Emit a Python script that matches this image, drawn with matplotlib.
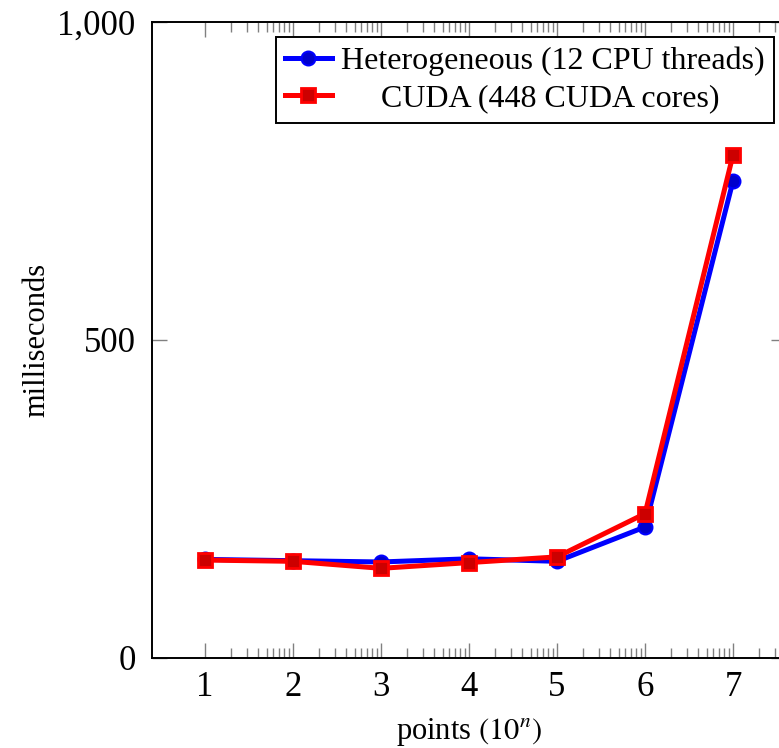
import numpy as np
import matplotlib
matplotlib.use("Agg")
import matplotlib.pyplot as plt
from matplotlib.ticker import FixedLocator, FuncFormatter

# exponent n of the number of points (10^n)
puntos = [1, 2, 3, 4, 5, 6, 7]
# tiempos en milisegundos
heterogeneo = [155, 153, 151, 156, 152, 206, 750]
cuda = [154, 152, 141, 150, 159, 227, 791]

etiqueta_het = "Heterogeneous (12 CPU threads)"
etiqueta_cuda = "CUDA (448 CUDA cores)"

plt.rcParams['font.family'] = ['Liberation Serif', 'DejaVu Serif']
plt.rcParams['mathtext.fontset'] = 'stix'

fig = plt.figure(figsize=(7.79, 7.48), dpi=100)
ax = fig.add_axes([152.2 / 779, 1 - 658 / 748, (785.8 - 152.2) / 779, (658 - 22) / 748])

ax.plot(puntos, heterogeneo, color='#0000ff', lw=3.6, marker='o', ms=10,
        mfc='#0000cc', mec='#0000ff', mew=1.5, label=etiqueta_het, zorder=3)
ax.plot(puntos, cuda, color='#ff0000', lw=3.6, marker='s', ms=10,
        mfc='#cc0000', mec='#ff0000', mew=2, label=' ' * 5 + etiqueta_cuda, zorder=4)

ax.set_xlim(0.4, 7.6)
ax.set_ylim(0, 1000)

# ticks estilo pgfplots: hacia dentro y en ambos lados
ax.xaxis.set_major_locator(FixedLocator(puntos))
menores = [n + np.log10(k) for n in range(1, 8) for k in range(2, 10)]
ax.xaxis.set_minor_locator(FixedLocator(menores))
ax.yaxis.set_major_locator(FixedLocator([0, 500, 1000]))
ax.yaxis.set_major_formatter(FuncFormatter(lambda v, p: f"{int(v):,}"))

ax.tick_params(which='both', direction='in', top=True, right=True,
               color='#808080', width=1.0)
ax.tick_params(which='major', length=11, labelsize=25, pad=9)
ax.tick_params(which='minor', length=7)
ax.tick_params(axis='y', pad=12)

for s in ax.spines.values():
    s.set_linewidth(1.4)
    s.set_color('black')

ax.set_xlabel(r"points $(10^{n})$", fontsize=22, labelpad=9)
ax.set_ylabel("milliseconds", fontsize=22, labelpad=4)

leg = ax.legend(loc='upper right', bbox_to_anchor=(0.982, 0.977), fontsize=23,
                frameon=True, fancybox=False, edgecolor='black', framealpha=1,
                handlelength=1.45, handletextpad=0.3, borderpad=0.3,
                labelspacing=0.25, borderaxespad=0)
leg.get_frame().set_linewidth(1.4)

fig.savefig("out.png", dpi=100)
